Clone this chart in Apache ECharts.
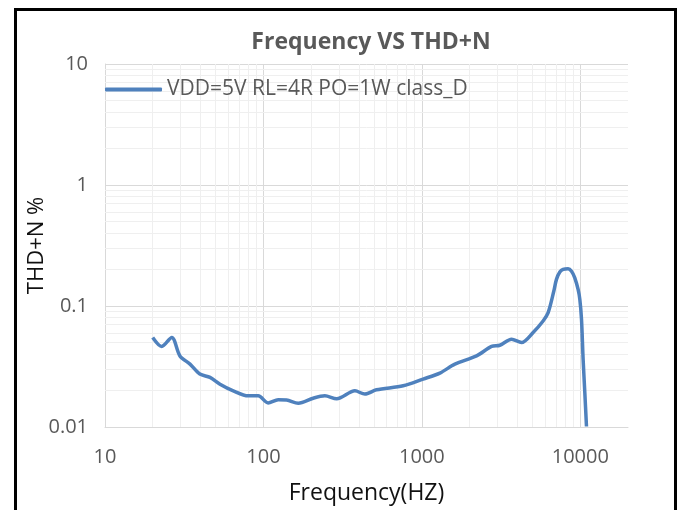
<!DOCTYPE html>
<html>
<head>
<meta charset="utf-8">
<script src="https://cdn.jsdelivr.net/npm/echarts@6/dist/echarts.min.js"></script>
<style>
html,body{margin:0;padding:0;background:#fff;}
#main{width:679px;height:510px;}
</style>
</head>
<body>
<div id="main"></div>
<script>
// ---- data ----
const freq = [20, 22.8, 26.4, 29.7, 34.4, 39.7, 46, 53.2, 64.5, 80.2, 92.7, 107, 124, 140, 166, 206, 244, 290, 378, 437, 517, 762, 1018, 1299, 1615, 2213, 2754, 3105, 3683, 4256, 5036, 5823, 6266, 6807, 7071, 7425, 7790, 8375, 8800, 9230, 9684, 9930, 10175, 10416, 10676, 10940];
const thd  = [0.0549, 0.0463, 0.0549, 0.0387, 0.0331, 0.0274, 0.0257, 0.0226, 0.0199, 0.0181, 0.0181, 0.0158, 0.0168, 0.0167, 0.0157, 0.0173, 0.0181, 0.0171, 0.0199, 0.0187, 0.0203, 0.0219, 0.0249, 0.0279, 0.0331, 0.0387, 0.0463, 0.0474, 0.0531, 0.0499, 0.0604, 0.0752, 0.0882, 0.133, 0.166, 0.1907, 0.2007, 0.2034, 0.194, 0.171, 0.137, 0.1135, 0.0777, 0.0364, 0.0193, 0.0101];
const seriesName = 'VDD=5V RL=4R PO=1W class_D';
const xTickLabels = ['10', '100', '1000', '10000'];
const yTickLabels = ['0.01', '0.1', '1', '10'];
const xMin = 10, xMax = 20000, yMin = 0.01, yMax = 10;

// minor gridline positions (2..9 within each decade)
const minorX = [], minorY = [];
for (let d = 10; d < xMax; d *= 10) for (let k = 2; k <= 9; k++) if (d * k < xMax) minorX.push(d * k);
for (let d = 0.01; d < yMax - 1e-9; d *= 10) for (let k = 2; k <= 9; k++) minorY.push(+(d * k).toPrecision(3));

const data = freq.map((f, i) => [f, thd[i]]);
const FONT = '"Open Sans", sans-serif';

const chart = echarts.init(document.getElementById('main'), null, {renderer: 'canvas'});
chart.setOption({
  animation: false,
  backgroundColor: '#fff',
  title: {
    text: 'Frequency VS THD+N',
    left: 366, textAlign: 'center', top: 26,
    textStyle: {fontFamily: FONT, fontSize: 23, fontWeight: 'bold', color: '#595959'}
  },
  legend: {
    data: [seriesName],
    left: 100, top: 74,
    icon: 'roundRect', itemWidth: 57, itemHeight: 4,
    textStyle: {fontFamily: FONT, fontSize: 21, color: '#595959'}
  },
  grid: {left: 105, right: 51, top: 64, bottom: 82, containLabel: false},
  xAxis: {
    type: 'log', logBase: 10, min: xMin, max: xMax,
    name: 'Frequency(HZ)', nameLocation: 'middle', nameGap: 55, nameMoveOverlap: false,
    nameTextStyle: {fontFamily: FONT, fontSize: 23, color: '#111'},
    axisLine: {show: true, lineStyle: {color: '#d9d9d9', width: 1}},
    axisTick: {show: false},
    axisLabel: {
      margin: 20, fontFamily: FONT, fontSize: 20, color: '#595959',
      showMaxLabel: false,
      formatter: v => {
        const e = Math.log10(v);
        return Math.abs(e - Math.round(e)) < 1e-6 ? (xTickLabels[Math.round(e) - 1] || '') : '';
      }
    },
    splitLine: {show: true, showMaxLine: false, lineStyle: {color: '#d9d9d9', width: 1}}
  },
  yAxis: {
    type: 'log', logBase: 10, min: yMin, max: yMax,
    name: 'THD+N %', nameLocation: 'middle', nameGap: 57, nameRotate: 90, nameMoveOverlap: false,
    nameTextStyle: {fontFamily: FONT, fontSize: 22, color: '#111'},
    axisLine: {show: true, lineStyle: {color: '#d9d9d9', width: 1}},
    axisTick: {show: false},
    axisLabel: {
      margin: 17, fontFamily: FONT, fontSize: 20, color: '#595959',
      formatter: v => {
        const e = Math.round(Math.log10(v));
        return yTickLabels[e + 2] || '';
      }
    },
    splitLine: {show: true, lineStyle: {color: '#d9d9d9', width: 1}}
  },
  graphic: [{
    type: 'rect', silent: true, z: 100,
    shape: {x: 15.5, y: 9.5, width: 660, height: 520},
    style: {fill: 'none', stroke: '#000', lineWidth: 3}
  }],
  series: [
    {
      name: '_grid', type: 'line', z: 1, silent: true,
      data: [[freq[0], thd[0]]], showSymbol: false, symbol: 'none',
      lineStyle: {opacity: 0},
      markLine: {
        z: 1, silent: true, symbol: 'none', animation: false,
        label: {show: false},
        lineStyle: {color: '#efefef', width: 1, type: 'solid'},
        emphasis: {disabled: true},
        data: minorX.map(v => ({xAxis: v})).concat(minorY.map(v => ({yAxis: v})))
      }
    },
    {
      name: seriesName, type: 'line', z: 10,
      data: data, smooth: 0.3,
      symbol: 'none', showSymbol: false,
      lineStyle: {color: '#4F81BD', width: 3.5},
      itemStyle: {color: '#4F81BD'}
    }
  ]
});
</script>
</body>
</html>
